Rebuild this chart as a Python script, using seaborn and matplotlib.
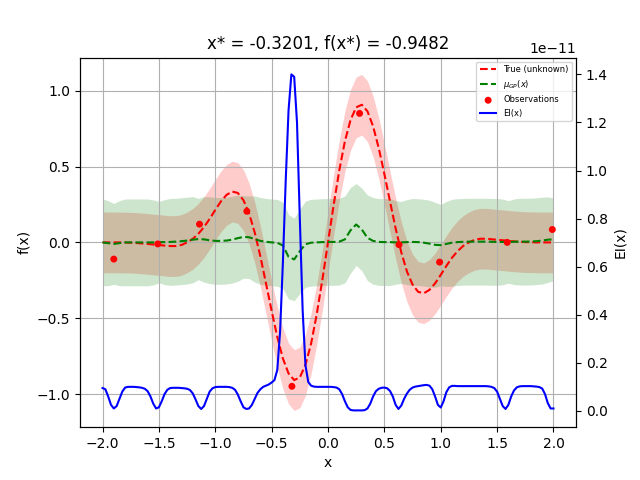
import numpy as np
import matplotlib
matplotlib.use("Agg")
import matplotlib.pyplot as plt
import seaborn as sns

# ---------------- data ----------------
# grid for the true function and the GP (step 0.05 from -2 to 2)
grid_x = np.round(np.linspace(-2.0, 2.0, 81), 3)

true_f = [
    0.000, 0.000, 0.000, 0.000, -0.001, -0.002, -0.004, -0.007, -0.010, -0.014,
    -0.017, -0.021, -0.024, -0.024, -0.017, 0.000, 0.023, 0.057, 0.101, 0.155,
    0.214, 0.270, 0.313, 0.335, 0.326, 0.278, 0.191, 0.065, -0.092, -0.270,
    -0.451, -0.622, -0.765, -0.864, -0.907, -0.890, -0.807, -0.667, -0.474, -0.246,
    0.000,
    0.246, 0.474, 0.667, 0.807, 0.890, 0.907, 0.864, 0.765, 0.622, 0.451,
    0.270, 0.092, -0.065, -0.191, -0.278, -0.326, -0.335, -0.313, -0.270, -0.214,
    -0.155, -0.101, -0.057, -0.023, 0.000, 0.017, 0.024, 0.024, 0.021, 0.017,
    0.014, 0.010, 0.007, 0.004, 0.002, 0.001, 0.000, 0.000, 0.000, 0.000,
]
true_band = 0.2

gp_mu = [
    0.000, -0.005, -0.010, -0.005, 0.000, 0.000, 0.000, 0.000, 0.000, 0.000,
    0.002, 0.002, 0.003, 0.005, 0.008, 0.012, 0.018, 0.022, 0.020, 0.014,
    0.010, 0.010, 0.012, 0.018, 0.028, 0.036, 0.034, 0.022, 0.010, 0.004,
    0.000, -0.003, -0.020, -0.095, -0.112, -0.058, -0.012, -0.002, 0.000, 0.002,
    0.003,
    0.003, 0.005, 0.020, 0.080, 0.118, 0.085, 0.030, 0.010, 0.003, 0.002,
    0.002, 0.000, 0.000, 0.002, 0.003, 0.002, -0.002, -0.008, -0.016, -0.018,
    -0.010, -0.002, 0.002, 0.004, 0.005, 0.005, 0.005, 0.005, 0.004, 0.003,
    0.003, 0.003, 0.004, 0.005, 0.005, 0.006, 0.008, 0.012, 0.018, 0.020,
]

gp_std = [
    0.143, 0.140, 0.133, 0.140, 0.143, 0.143, 0.143, 0.143, 0.143, 0.140,
    0.134, 0.140, 0.143, 0.143, 0.143, 0.143, 0.142, 0.134, 0.141, 0.143,
    0.143, 0.143, 0.143, 0.143, 0.142, 0.136, 0.136, 0.142, 0.143, 0.143,
    0.143, 0.143, 0.142, 0.139, 0.136, 0.139, 0.142, 0.143, 0.143, 0.143,
    0.143,
    0.143, 0.143, 0.143, 0.141, 0.135, 0.136, 0.141, 0.143, 0.143, 0.143,
    0.143, 0.138, 0.135, 0.140, 0.143, 0.143, 0.143, 0.143, 0.140, 0.134,
    0.140, 0.143, 0.143, 0.143, 0.143, 0.143, 0.143, 0.143, 0.143, 0.143,
    0.141, 0.136, 0.141, 0.143, 0.143, 0.143, 0.143, 0.143, 0.141, 0.136,
]

obs_x = [-1.90, -1.51, -1.14, -0.72, -0.3201, 0.28, 0.63, 0.99, 1.59, 1.99]
obs_y = [-0.11, -0.01, 0.12, 0.205, -0.9482, 0.85, -0.015, -0.13, 0.0, 0.085]

# expected improvement (units of 1e-11), step 0.025 from -2 to 2
ei_x = np.round(np.linspace(-2.0, 2.0, 161), 4)
ei_vals = [
    0.095, 0.090, 0.060, 0.025, 0.010, 0.020, 0.050, 0.080, 0.097, 0.100,  # -2.000 .. -1.775
    0.100, 0.100, 0.099, 0.098, 0.096, 0.092, 0.082, 0.060, 0.030, 0.010,  # -1.750 .. -1.525
    0.015, 0.040, 0.070, 0.088, 0.095, 0.096, 0.096, 0.096, 0.095, 0.094,  # -1.500 .. -1.275
    0.092, 0.087, 0.073, 0.048, 0.020, 0.008, 0.020, 0.050, 0.080, 0.094,  # -1.250 .. -1.025
    0.099, 0.100, 0.100, 0.100, 0.100, 0.099, 0.096, 0.088, 0.068, 0.040,  # -1.000 .. -0.775
    0.015, 0.008, 0.010, 0.025, 0.050, 0.075, 0.090, 0.100, 0.105, 0.110,  # -0.750 .. -0.525
    0.118, 0.128, 0.170, 0.330, 0.620, 0.960, 1.250, 1.400, 1.390, 1.200,  # -0.500 .. -0.275
    0.800, 0.420, 0.190, 0.120, 0.105, 0.101, 0.100, 0.100, 0.100, 0.100,  # -0.250 .. -0.025
    0.100, 0.100, 0.099, 0.097, 0.090, 0.070, 0.040, 0.015, 0.004, 0.002,  #  0.000 ..  0.225
    0.002, 0.002, 0.002, 0.003, 0.010, 0.030, 0.060, 0.082, 0.092, 0.096,  #  0.250 ..  0.475
    0.097, 0.094, 0.083, 0.060, 0.025, 0.008, 0.022, 0.050, 0.072, 0.088,  #  0.500 ..  0.725
    0.097, 0.101, 0.103, 0.105, 0.107, 0.108, 0.105, 0.090, 0.060, 0.025,  #  0.750 ..  0.975
    0.014, 0.040, 0.078, 0.098, 0.104, 0.104, 0.103, 0.103, 0.103, 0.103,  #  1.000 ..  1.225
    0.103, 0.103, 0.103, 0.103, 0.103, 0.103, 0.103, 0.102, 0.100, 0.095,  #  1.250 ..  1.475
    0.080, 0.050, 0.020, 0.008, 0.025, 0.060, 0.085, 0.098, 0.102, 0.103,  #  1.500 ..  1.725
    0.103, 0.103, 0.103, 0.102, 0.101, 0.099, 0.093, 0.070, 0.032, 0.010,  #  1.750 ..  1.975
    0.010,                                                                 #  2.000
]
ei_scale = 1e-11

title = "x* = -0.3201, f(x*) = -0.9482"

# ---------------- plotting ----------------
true_f = np.asarray(true_f)
gp_mu = np.asarray(gp_mu)
gp_std = np.asarray(gp_std)
ei = np.asarray(ei_vals) * ei_scale

fig, ax1 = plt.subplots(figsize=(6.4, 4.8), dpi=100)

sns.lineplot(x=grid_x, y=true_f, color="r", linestyle="--", linewidth=1.5,
             label="True (unknown)", ax=ax1)
ax1.fill_between(grid_x, true_f - true_band, true_f + true_band,
                 color="red", alpha=0.2, linewidth=0)
sns.lineplot(x=grid_x, y=gp_mu, color="g", linestyle="--", linewidth=1.5,
             label=r"$\mu_{GP}(x)$", ax=ax1)
ax1.fill_between(grid_x, gp_mu - 2 * gp_std, gp_mu + 2 * gp_std,
                 color="green", alpha=0.2, linewidth=0)
sns.scatterplot(x=obs_x, y=obs_y, color="red", s=25, edgecolor="none",
                linewidth=0, label="Observations", ax=ax1, zorder=3)

ax1.set_xlabel("x")
ax1.set_ylabel("f(x)")
ax1.set_title(title)
ax1.grid(True)

ax2 = ax1.twinx()
sns.lineplot(x=ei_x, y=ei, color="b", linewidth=1.5, label="EI(x)", ax=ax2)
ax2.set_ylabel("EI(x)")

h1, l1 = ax1.get_legend_handles_labels()
h2, l2 = ax2.get_legend_handles_labels()
if ax1.get_legend() is not None:
    ax1.get_legend().remove()
if ax2.get_legend() is not None:
    ax2.get_legend().remove()
ax2.legend(h1 + h2, l1 + l2, loc="upper right", fontsize=6)

fig.savefig("out.png", dpi=100)
